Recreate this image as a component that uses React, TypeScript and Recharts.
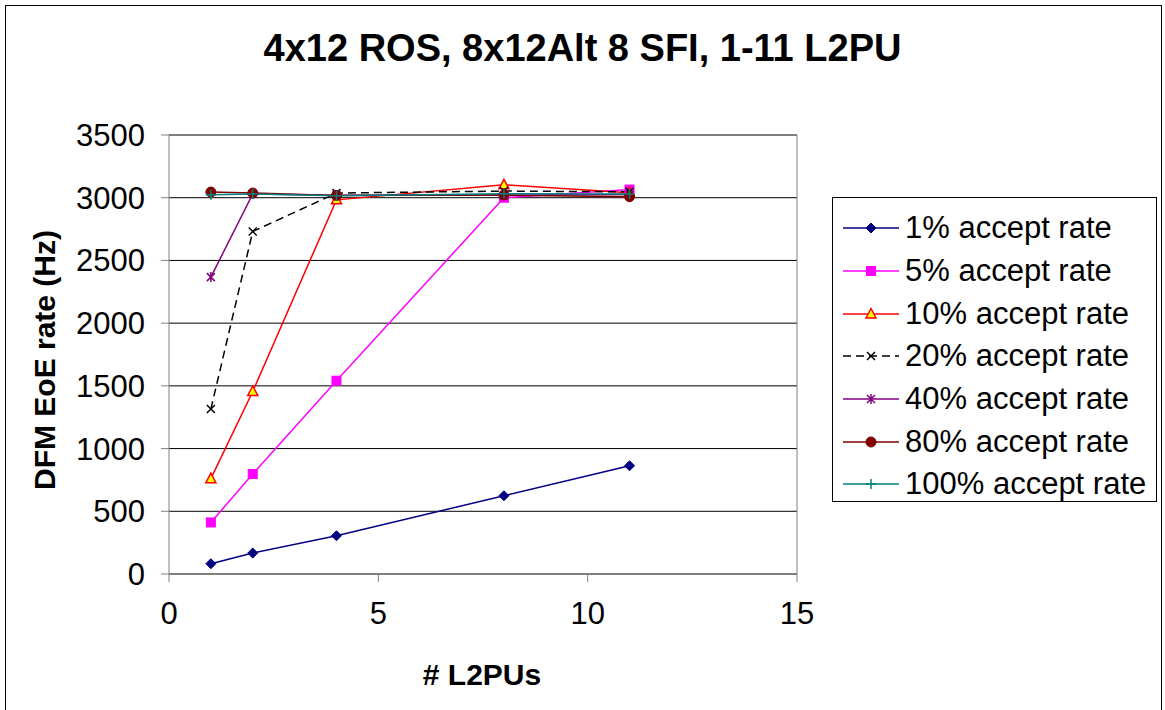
import React from 'react'
import { LineChart, Line, XAxis, YAxis, CartesianGrid, ReferenceLine } from 'recharts'

const FONT = '"Liberation Sans", Arial, sans-serif'

const L2PUS = [1, 2, 4, 8, 11]
const X_TICKS = [0, 5, 10, 15]
const Y_TICKS = [0, 500, 1000, 1500, 2000, 2500, 3000, 3500]

const RATE_1 = [82, 167, 305, 624, 863]
const RATE_5 = [411, 797, 1541, 3000, 3065]
const RATE_10 = [760, 1455, 2983, 3103, 3040]
const RATE_20 = [1315, 2731, 3037, 3053, 3047]
const RATE_40 = [2367, 3030, 3020, 3020, 3025]
const RATE_80 = [3045, 3037, 3018, 3021, 3008]
const RATE_100 = [3023, 3030, 3015, 3031, 3030]

type MarkerKind = 'diamond' | 'square' | 'triangle' | 'cross' | 'star' | 'circle' | 'plus'

const SERIES: { key: string; name: string; values: number[]; color: string; marker: MarkerKind; dash?: string }[] = [
  { key: 'r1', name: '1% accept rate', values: RATE_1, color: '#000080', marker: 'diamond' },
  { key: 'r5', name: '5% accept rate', values: RATE_5, color: '#ff00ff', marker: 'square' },
  { key: 'r10', name: '10% accept rate', values: RATE_10, color: '#ff0000', marker: 'triangle' },
  { key: 'r20', name: '20% accept rate', values: RATE_20, color: '#000000', marker: 'cross', dash: '8 5' },
  { key: 'r40', name: '40% accept rate', values: RATE_40, color: '#800080', marker: 'star' },
  { key: 'r80', name: '80% accept rate', values: RATE_80, color: '#800000', marker: 'circle' },
  { key: 'r100', name: '100% accept rate', values: RATE_100, color: '#008080', marker: 'plus' },
]

const data = L2PUS.map((x, i) => {
  const row: Record<string, number> = { x }
  SERIES.forEach(s => { row[s.key] = s.values[i] })
  return row
})

function Marker({ kind, color, cx, cy }: { kind: MarkerKind; color: string; cx: number; cy: number }) {
  switch (kind) {
    case 'diamond':
      return <path d={`M${cx},${cy - 5} L${cx + 5},${cy} L${cx},${cy + 5} L${cx - 5},${cy} Z`} fill={color} stroke={color} />
    case 'square':
      return <rect x={cx - 4.5} y={cy - 4.5} width={9} height={9} fill={color} stroke={color} />
    case 'triangle':
      return <path d={`M${cx},${cy - 5.5} L${cx + 5},${cy + 4} L${cx - 5},${cy + 4} Z`} fill="#ffff00" stroke={color} strokeWidth={1.5} />
    case 'cross':
      return <path d={`M${cx - 4},${cy - 4} L${cx + 4},${cy + 4} M${cx - 4},${cy + 4} L${cx + 4},${cy - 4}`} stroke={color} strokeWidth={1.5} />
    case 'star':
      return <path d={`M${cx - 4},${cy - 4} L${cx + 4},${cy + 4} M${cx - 4},${cy + 4} L${cx + 4},${cy - 4} M${cx},${cy - 5} L${cx},${cy + 5}`} stroke={color} strokeWidth={1.5} />
    case 'circle':
      return <circle cx={cx} cy={cy} r={5} fill={color} stroke={color} />
    case 'plus':
      return <path d={`M${cx - 5},${cy} L${cx + 5},${cy} M${cx},${cy - 5} L${cx},${cy + 5}`} stroke={color} strokeWidth={1.5} />
  }
}

function Legend() {
  return (
    <div
      style={{
        position: 'absolute',
        left: 832,
        top: 197,
        width: 325,
        height: 305,
        border: '1px solid #000',
        boxSizing: 'border-box',
        background: '#fff',
        paddingTop: 9,
      }}
    >
      {SERIES.map(s => (
        <div key={s.key} style={{ display: 'flex', alignItems: 'center', height: 42.7 }}>
          <svg width={72} height={20} style={{ marginLeft: 6 }}>
            <line x1={4} y1={10} x2={60} y2={10} stroke={s.color} strokeWidth={1.5} strokeDasharray={s.dash} />
            <Marker kind={s.marker} color={s.color} cx={32} cy={10} />
          </svg>
          <span style={{ fontFamily: FONT, fontSize: 31, color: '#000', marginLeft: -6, whiteSpace: 'nowrap' }}>{s.name}</span>
        </div>
      ))}
    </div>
  )
}

export default function App() {
  return (
    <div style={{ position: 'absolute', left: 0, top: 0, width: 1165, height: 710, background: '#fff', overflow: 'hidden' }}>
      <div
        style={{
          position: 'absolute',
          left: 5,
          top: 5,
          width: 1157,
          height: 720,
          border: '1px solid #000',
          boxSizing: 'border-box',
        }}
      />
      <div
        style={{
          position: 'absolute',
          left: 0,
          width: 1165,
          top: 27,
          textAlign: 'center',
          fontFamily: FONT,
          fontWeight: 'bold',
          fontSize: 38,
        }}
      >
        4x12 ROS, 8x12Alt 8 SFI, 1-11 L2PU
      </div>
      <div style={{ position: 'absolute', left: 0, top: 0 }}>
        <LineChart width={1165} height={710} data={data} margin={{ top: 135, right: 368, bottom: 106, left: 0 }}>
          <CartesianGrid vertical={false} stroke="#000" strokeWidth={1} />
          <XAxis
            dataKey="x"
            type="number"
            domain={[0, 15]}
            ticks={X_TICKS}
            height={30}
            stroke="#808080"
            tickSize={8}
            tickMargin={20}
            tick={{ fill: '#000', fontSize: 31, fontFamily: FONT }}
          />
          <YAxis
            type="number"
            domain={[0, 3500]}
            ticks={Y_TICKS}
            width={169}
            stroke="#808080"
            tickSize={8}
            tickMargin={16}
            tick={{ fill: '#000', fontSize: 31, fontFamily: FONT }}
          />
          <ReferenceLine y={3500} stroke="#808080" />
          <ReferenceLine x={15} stroke="#808080" />
          {SERIES.map(s => (
            <Line
              key={s.key}
              type="linear"
              dataKey={s.key}
              name={s.name}
              stroke={s.color}
              strokeWidth={1.5}
              strokeDasharray={s.dash}
              isAnimationActive={false}
              dot={(p: any) => <Marker key={`${s.key}-${p.index}`} kind={s.marker} color={s.color} cx={p.cx} cy={p.cy} />}
              activeDot={false}
            />
          ))}
        </LineChart>
      </div>
      <div
        style={{
          position: 'absolute',
          left: 45,
          top: 360,
          transform: 'translate(-50%, -50%) rotate(-90deg)',
          fontFamily: FONT,
          fontWeight: 'bold',
          fontSize: 30,
          whiteSpace: 'nowrap',
        }}
      >
        DFM EoE rate (Hz)
      </div>
      <div
        style={{
          position: 'absolute',
          left: 482,
          top: 675,
          transform: 'translate(-50%, -50%)',
          fontFamily: FONT,
          fontWeight: 'bold',
          fontSize: 30,
          whiteSpace: 'nowrap',
        }}
      >
        # L2PUs
      </div>
      <Legend />
    </div>
  )
}
